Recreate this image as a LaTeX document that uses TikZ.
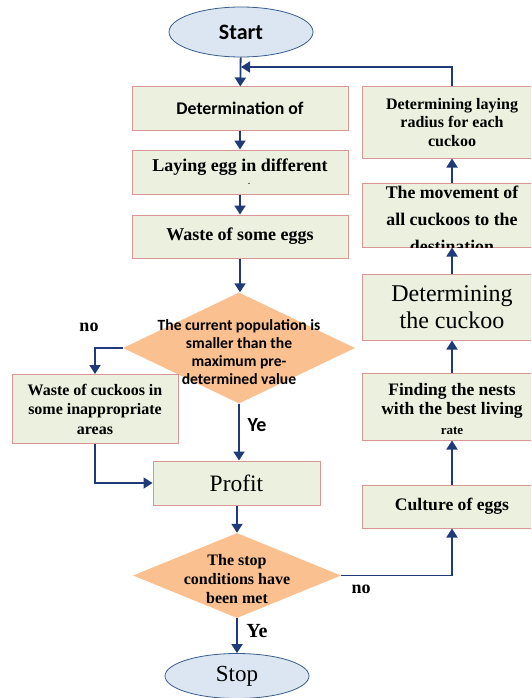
\documentclass[tikz,border=0pt]{standalone}
\usepackage{fontspec}
\setmainfont{Liberation Serif}
\newfontfamily\calfont{Carlito}
\usetikzlibrary{shapes.geometric,arrows.meta}
\definecolor{boxfill}{HTML}{EBF1DE}
\definecolor{boxline}{HTML}{D99694}
\definecolor{dfill}{HTML}{FAC090}
\definecolor{efill}{HTML}{DCE6F2}
\definecolor{eline}{HTML}{385D8A}
\definecolor{arr}{HTML}{1F3A78}
\tikzset{
  pbox/.style={draw=boxline,fill=boxfill,line width=1pt,rectangle,inner sep=0pt,align=center},
  dia/.style={diamond,fill=dfill,draw=none,inner sep=0pt},
  term/.style={ellipse,fill=efill,draw=eline,line width=0.8pt,inner sep=0pt},
  flow/.style={draw=arr,line width=1.8pt,-{Triangle[length=9pt,width=11pt]}},
  lab/.style={font=\fontsize{18}{20}\selectfont\bfseries}
}
\begin{document}
\begin{tikzpicture}[x=1pt,y=-1pt]
\useasboundingbox (0,0) rectangle (531,698);
\begin{scope}
\clip (0,0) rectangle (531,698);
% left column
\node[term,minimum width=144,minimum height=50,font=\calfont\fontsize{22}{24}\selectfont\bfseries] (start) at (241,32) {Start};
\node[pbox,minimum width=216,minimum height=43,font=\calfont\fontsize{17.8}{20}\selectfont\bfseries] (b1) at (240,108.5) {Determination of};
\node[pbox,minimum width=216,minimum height=44] (b2) at (240,172) {};
\node[font=\fontsize{18}{20}\selectfont\bfseries] (b2t) at (240,167) {Laying egg in different};
\node[font=\fontsize{8}{8}\selectfont\bfseries] (b2d) at (249,184) {.};
\node[pbox,minimum width=216,minimum height=43,font=\fontsize{18}{20}\selectfont\bfseries] (b3) at (240,236.5) {Waste of some eggs};
\node[dia,minimum width=232,minimum height=111] (d1) at (239,348) {};
\node[align=center,font=\calfont\fontsize{15.6}{18}\selectfont\bfseries] (d1t) at (239,352) {The current population is\\smaller than the\\maximum pre-\\determined value};
\node[pbox,minimum width=166,minimum height=69,font=\fontsize{16}{19.5}\selectfont\bfseries] (wc) at (95,409) {Waste of cuckoos in\\some inappropriate\\areas};
\node[pbox,minimum width=167,minimum height=44,font=\fontsize{23.5}{26}\selectfont] (profit) at (236.5,483) {Profit};
\node[dia,minimum width=208,minimum height=85] (d2) at (237,575.5) {};
\node[align=center,font=\fontsize{16}{19}\selectfont\bfseries] (d2t) at (237,579) {The stop\\conditions have\\been met};
\node[term,minimum width=144,minimum height=45,font=\fontsize{23}{25}\selectfont] (stop) at (237,676) {Stop};
% right column
\node[pbox,minimum width=180,minimum height=43,font=\fontsize{17.6}{20}\selectfont\bfseries] (cult) at (452,506.5) {Culture of eggs};
\node[pbox,minimum width=180,minimum height=67] (find) at (452,406.5) {};
\node[pbox,minimum width=180,minimum height=66,font=\fontsize{24}{27}\selectfont] (det) at (452,307) {Determining\\the cuckoo};
\node[pbox,minimum width=180,minimum height=64] (move) at (452,215) {};
\node[pbox,minimum width=180,minimum height=71,font=\fontsize{16}{18.5}\selectfont\bfseries] (rad) at (452,122.5) {Determining laying\\radius for each\\cuckoo};
\begin{scope}
\clip (find.south west) rectangle (find.north east);
\node[align=center,font=\fontsize{17.5}{18.5}\selectfont\bfseries] (findt) at (452,401) {Finding the nests\\with the best living};
\node[font=\fontsize{13}{14}\selectfont\bfseries] (findr) at (452,431) {rate};
\end{scope}
\begin{scope}
\clip (move.south west) rectangle (move.north east);
\node[align=center,font=\fontsize{17.8}{27}\selectfont\bfseries] (movet) at (452,219) {The movement of\\all cuckoos to the\\destination};
\end{scope}
% connectors
\coordinate (j) at (241,67);
\draw[flow] (start) -- (b1);
\draw[flow] (b1) -- (b2);
\draw[flow] (b2) -- (b3);
\draw[flow] (b3.south) -- (b3.south |- d1.north);
\draw[flow] (d1.west) -| (wc.north);
\draw[flow] (wc.south) |- (profit.west);
\draw[flow] (d1.south) -- (d1.south |- profit.north);
\draw[flow] (profit.south -| d2.north) -- (d2.north);
\draw[flow] (d2) -- (stop);
\draw[flow] (d2.east) -| (cult.south);
\draw[flow] (cult) -- (find);
\draw[flow] (find) -- (det);
\draw[flow] (det) -- (move);
\draw[flow] (move) -- (rad);
\draw[flow] (rad.north) |- (j);
% labels
\node[lab] (no1) at (89,327) {no};
\node[lab,font=\calfont\fontsize{20}{22}\selectfont\bfseries] (ye1) at (257,425) {Ye};
\node[lab] (no2) at (361,589) {no};
\node[lab,font=\fontsize{20}{22}\selectfont\bfseries] (ye2) at (257,631) {Ye};
\end{scope}
\end{tikzpicture}
\end{document}
